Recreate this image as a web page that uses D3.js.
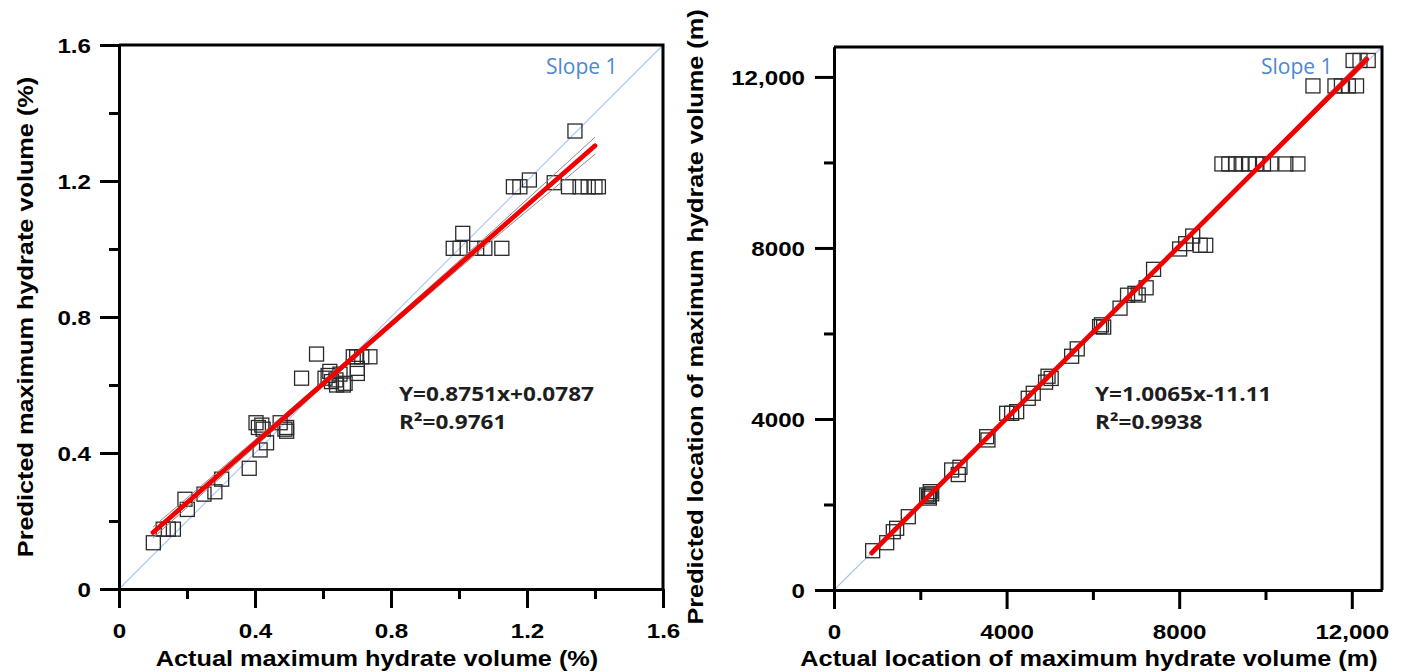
<!DOCTYPE html>
<html>
<head>
<meta charset="utf-8">
<script src="https://cdn.jsdelivr.net/npm/d3@7"></script>
<style>
  html, body { margin: 0; padding: 0; background: #ffffff; }
  svg { display: block; }
</style>
</head>
<body>
<svg id="chart" width="1402" height="672"></svg>
<script>
// ---------------- DATA ----------------
// Left panel: maximum hydrate volume (%)
const leftActual = [0.101, 0.130, 0.145, 0.160, 0.194, 0.201, 0.250, 0.282, 0.302,
  0.383, 0.415, 0.434, 0.403, 0.420, 0.424, 0.474, 0.493, 0.488, 0.493, 0.410,
  0.537, 0.581, 0.606, 0.615, 0.625, 0.638, 0.650, 0.660, 0.665, 0.620, 0.640,
  0.689, 0.699, 0.714, 0.738, 0.701, 0.701, 0.983, 1.003, 1.052, 1.076, 1.126, 1.011,
  1.160, 1.179, 1.207, 1.280, 1.322, 1.356, 1.380, 1.400, 1.410, 1.341];
const leftPredicted = [0.136, 0.176, 0.176, 0.176, 0.264, 0.234, 0.279, 0.286, 0.323,
  0.355, 0.409, 0.430, 0.489, 0.482, 0.470, 0.489, 0.475, 0.470, 0.464, 0.475,
  0.620, 0.691, 0.620, 0.628, 0.610, 0.615, 0.632, 0.600, 0.605, 0.640, 0.600,
  0.683, 0.683, 0.683, 0.683, 0.634, 0.649, 1.002, 1.002, 1.002, 1.002, 1.002, 1.046,
  1.183, 1.183, 1.203, 1.195, 1.183, 1.183, 1.183, 1.183, 1.183, 1.347];
const leftFitX = [0.1, 1.4];
const leftFitY = [0.1662, 1.3038];          // Y = 0.8751x + 0.0787
const leftBandX = [0.1, 0.4, 0.75, 1.1, 1.4];
const leftBandHalf = [0.016, 0.010, 0.007, 0.013, 0.025];
const leftMajorTicks = [0, 0.4, 0.8, 1.2, 1.6];
const leftMinorTicks = [0.2, 0.6, 1.0, 1.4];
const leftTickLabels = ["0", "0.4", "0.8", "1.2", "1.6"];
const leftDomain = [0, 1.6];

// Right panel: location of maximum hydrate volume (m)
const rightActual = [896, 1221, 1374, 1452, 1722, 2148, 2190, 2230, 2264, 2210,
  2727, 2919, 2880, 3538, 3568, 4001, 4117, 4233, 4502, 4618, 4903, 5033, 4960,
  5507, 5637, 6155, 6198, 6250, 6629, 6803, 6975, 7234, 7050, 7406,
  8010, 8150, 8313, 8486, 8615,
  8990, 9150, 9306, 9437, 9608, 9780, 9953, 10125, 10471, 10751,
  11100, 11610, 11760, 11920, 12110, 12030, 12190, 12380];
const rightPredicted = [919, 1106, 1363, 1443, 1714, 2222, 2191, 2300, 2250, 2150,
  2807, 2870, 2700, 3586, 3509, 4133, 4133, 4172, 4484, 4601, 4862, 4948, 5000,
  5467, 5640, 6159, 6202, 6150, 6592, 6895, 6938, 7068, 6900, 7500,
  7976, 8100, 8278, 8062, 8062,
  9965, 9965, 9965, 9965, 9965, 9965, 9965, 9965, 9965, 9965,
  11790, 11790, 11790, 11790, 11790, 12385, 12385, 12385];
const rightFitX = [873, 12345];
const rightFitY = [867.6, 12414.1];         // Y = 1.0065x - 11.11
const rightBandX = [873, 4000, 6500, 9500, 12345];
const rightBandHalf = [70, 35, 25, 45, 90];
const rightMajorTicks = [0, 4000, 8000, 12000];
const rightMinorTicks = [2000, 6000, 10000];
const rightTickLabels = ["0", "4000", "8000", "12,000"];
const rightDomain = [0, 12700];

// ---------------- DRAW ----------------
const svg = d3.select("#chart");
svg.append("rect").attr("width", 1402).attr("height", 672).attr("fill", "#fff");

const STRETCH = 1.15;
const axisFont = "'Liberation Sans', Arial, sans-serif";
const eqFont = "'Open Sans', 'Noto Sans', sans-serif";

function panel(cfg) {
  const x = d3.scaleLinear().domain(cfg.domain).range([cfg.left, cfg.right]);
  const y = d3.scaleLinear().domain(cfg.domain).range([cfg.bottom, cfg.top]);
  const g = svg.append("g");

  // slope 1 line
  g.append("line")
    .attr("x1", x(cfg.domain[0])).attr("y1", y(cfg.domain[0]))
    .attr("x2", x(cfg.domain[1])).attr("y2", y(cfg.domain[1]))
    .attr("stroke", "#a9c5ea").attr("stroke-width", 1.1);

  // markers
  g.append("g").selectAll("rect")
    .data(cfg.actual.map((a, i) => [a, cfg.predicted[i]]))
    .join("rect")
    .attr("x", d => x(d[0]) - 7).attr("y", d => y(d[1]) - 7)
    .attr("width", 14).attr("height", 14)
    .attr("fill", "none").attr("stroke", "#2a2a2a").attr("stroke-width", 1.3);

  // confidence bands
  const fitAt = v => cfg.fitY[0] + (v - cfg.fitX[0]) * (cfg.fitY[1] - cfg.fitY[0]) / (cfg.fitX[1] - cfg.fitX[0]);
  const line = d3.line().x(d => x(d[0])).y(d => y(d[1]));
  [1, -1].forEach(s => {
    g.append("path")
      .attr("d", line(cfg.bandX.map((bx, i) => [bx, fitAt(bx) + s * cfg.bandHalf[i]])))
      .attr("fill", "none").attr("stroke", "#8a8a8a").attr("stroke-width", 1);
  });

  // fit line
  g.append("path")
    .attr("d", line(cfg.fitX.map((fx, i) => [fx, cfg.fitY[i]])))
    .attr("fill", "none").attr("stroke", "#f20000").attr("stroke-width", 4.8)
    .attr("stroke-linecap", "round");

  // frame (top & right)
  g.append("path")
    .attr("d", `M${cfg.left},${cfg.top}H${cfg.right}V${cfg.bottom}`)
    .attr("fill", "none").attr("stroke", "#000").attr("stroke-width", 3);

  // axes
  const xMinor = d3.axisBottom(x).tickValues(cfg.minor).tickSize(10).tickSizeOuter(0).tickFormat("");
  const yMinor = d3.axisLeft(y).tickValues(cfg.minor).tickSize(10).tickSizeOuter(0).tickFormat("");
  const xMajor = d3.axisBottom(x).tickValues(cfg.major).tickSize(19).tickSizeOuter(0)
    .tickFormat((d, i) => cfg.labels[i]);
  const yMajor = d3.axisLeft(y).tickValues(cfg.major).tickSize(19).tickSizeOuter(0)
    .tickFormat((d, i) => cfg.labels[i]);

  [xMinor, xMajor].forEach(ax => {
    const a = g.append("g").attr("transform", `translate(0,${cfg.bottom})`).call(ax);
    a.selectAll("path, line").attr("stroke", "#000").attr("stroke-width", 3);
    a.selectAll("text")
      .attr("y", 49).attr("dy", 0)
      .attr("font-family", axisFont).attr("font-weight", "bold").attr("font-size", 21)
      .attr("fill", "#000")
      .attr("transform", `scale(${STRETCH},1)`);
  });
  [yMinor, yMajor].forEach(ax => {
    const a = g.append("g").attr("transform", `translate(${cfg.left},0)`).call(ax);
    a.selectAll("path, line").attr("stroke", "#000").attr("stroke-width", 3);
    a.selectAll("text")
      .attr("x", 0).attr("dy", "0.36em")
      .attr("font-family", axisFont).attr("font-weight", "bold").attr("font-size", 21)
      .attr("fill", "#000").attr("text-anchor", "end")
      .attr("transform", `translate(${-cfg.yLabelGap},0) scale(${STRETCH},1)`);
  });

  // axis titles
  g.append("text")
    .attr("transform", `translate(${cfg.xTitleX},666) scale(${STRETCH},1)`)
    .attr("text-anchor", "middle")
    .attr("font-family", axisFont).attr("font-weight", "bold").attr("font-size", 22)
    .text(cfg.xTitle);
  g.append("text")
    .attr("transform", `translate(${cfg.yTitleX},317) rotate(-90) scale(${STRETCH},1)`)
    .attr("text-anchor", "middle")
    .attr("font-family", axisFont).attr("font-weight", "bold").attr("font-size", 22)
    .text(cfg.yTitle);

  // Slope 1 label
  g.append("text")
    .attr("x", cfg.slopeX).attr("y", 74)
    .attr("font-family", eqFont).attr("font-size", 21).attr("fill", "#4a88d2")
    .text("Slope 1");

  // equation lines
  [[cfg.eq, 401], [cfg.r2, 429]].forEach(([t, by]) => {
    g.append("text")
      .attr("transform", `translate(${cfg.eqX},${by}) scale(1.13,1)`)
      .attr("font-family", eqFont).attr("font-weight", 700).attr("font-size", 20)
      .attr("fill", "#1e1e1e")
      .text(t);
  });
}

panel({
  domain: leftDomain, left: 119, right: 663, top: 45, bottom: 589,
  actual: leftActual, predicted: leftPredicted,
  fitX: leftFitX, fitY: leftFitY, bandX: leftBandX, bandHalf: leftBandHalf,
  major: leftMajorTicks, minor: leftMinorTicks, labels: leftTickLabels,
  yLabelGap: 28,
  xTitle: "Actual maximum hydrate volume (%)", xTitleX: 377,
  yTitle: "Predicted maximum hydrate volume (%)", yTitleX: 33,
  slopeX: 546, eqX: 399, eq: "Y=0.8751x+0.0787", r2: "R\u00B2=0.9761"
});

panel({
  domain: rightDomain, left: 834, right: 1382, top: 47, bottom: 590,
  actual: rightActual, predicted: rightPredicted,
  fitX: rightFitX, fitY: rightFitY, bandX: rightBandX, bandHalf: rightBandHalf,
  major: rightMajorTicks, minor: rightMinorTicks, labels: rightTickLabels,
  yLabelGap: 29,
  xTitle: "Actual location of maximum hydrate volume (m)", xTitleX: 1089,
  yTitle: "Predicted location of maximum hydrate volume (m)", yTitleX: 703,
  slopeX: 1261, eqX: 1095, eq: "Y=1.0065x-11.11", r2: "R\u00B2=0.9938"
});
</script>
</body>
</html>
